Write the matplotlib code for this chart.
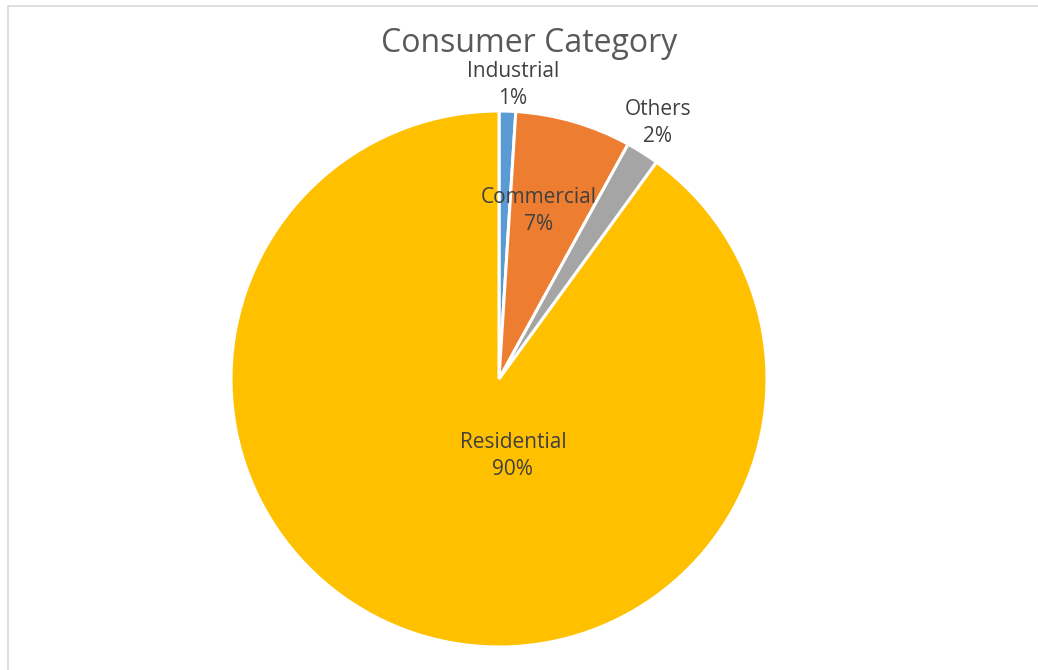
import matplotlib
matplotlib.use("Agg")
import matplotlib.pyplot as plt
from matplotlib.patches import Rectangle
import numpy as np

categories = ["Industrial", "Commercial", "Others", "Residential"]
shares = [1, 7, 2, 90]
colors = ["#5B9BD5", "#ED7D31", "#A5A5A5", "#FFC000"]

# where each data label sits, in pie-radius units (x, y)
label_pos = [(0.052, 1.097), (0.149, 0.627), (0.593, 0.955), (0.052, -0.287)]

plt.rcParams['font.family'] = ['Open Sans', 'DejaVu Sans']

fig = plt.figure(figsize=(10.38, 6.70), dpi=100)
ax = fig.add_axes([231 / 1038, 23 / 670, 536 / 1038, 536 / 670])

wedges, _ = ax.pie(shares, colors=colors, startangle=90, counterclock=False,
                   radius=1, wedgeprops=dict(edgecolor="white", linewidth=2.2))
ax.set_xlim(-1, 1)
ax.set_ylim(-1, 1)
ax.set_aspect("equal")
ax.axis("off")

total = sum(shares)
for name, val, (x, y) in zip(categories, shares, label_pos):
    ax.text(x, y, "{}\n{:.0f}%".format(name, 100 * val / total), ha="center", va="center",
            fontsize=15, color="#404040", linespacing=1.4)

fig.text(529 / 1038, 1 - 44 / 670, "Consumer Category", ha="center", va="center",
         fontsize=23, color="#595959")

# chart border (right and bottom edges fall outside the picture)
fig.patches.append(Rectangle((8 / 1038, -0.1), 1.1, 1 - 6 / 670 + 0.1, transform=fig.transFigure,
                             fill=False, edgecolor="#D9D9D9", linewidth=1.2))

fig.savefig("out.png", dpi=100)
